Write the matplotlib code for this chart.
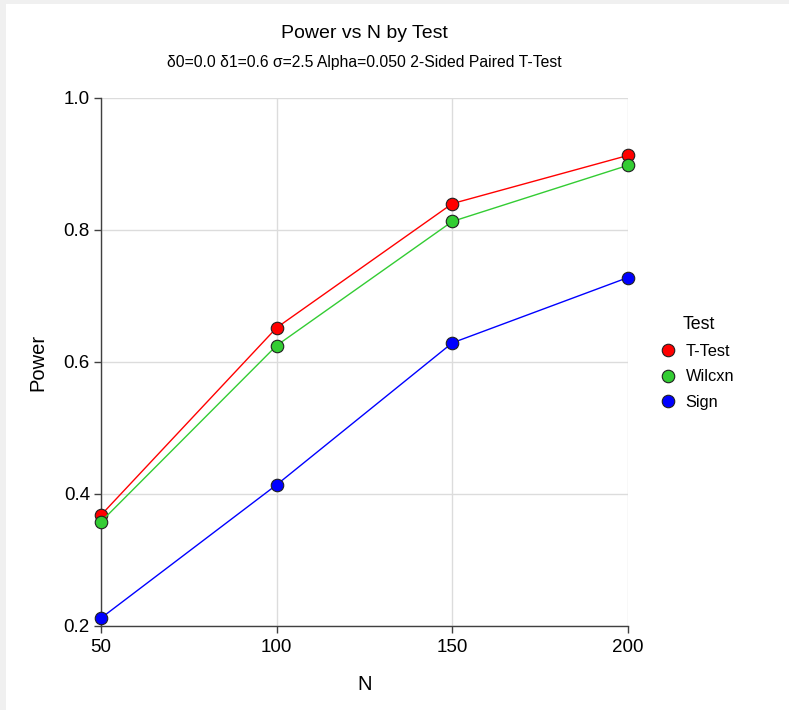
import matplotlib.pyplot as plt
from matplotlib.patches import Rectangle

plt.rcParams['font.family'] = ['Liberation Sans', 'DejaVu Sans']

# power values by sample size
n_values = [50, 100, 150, 200]
t_test = [0.368, 0.652, 0.840, 0.913]
wilcxn = [0.358, 0.625, 0.813, 0.898]
sign = [0.212, 0.414, 0.629, 0.728]

series = [("T-Test", t_test, "#ff0000"),
          ("Wilcxn", wilcxn, "#33cc33"),
          ("Sign", sign, "#0000ff")]

fig = plt.figure(figsize=(7.89, 7.10), dpi=100)
fig.patch.set_facecolor("#f0f0f0")
# white panel inside the grey frame
panel = Rectangle((6 / 789, 0), 1, 1 - 4 / 710, transform=fig.transFigure,
                  facecolor="white", edgecolor="none", zorder=-10)
fig.add_artist(panel)

ax = fig.add_axes([101 / 789, 1 - 626 / 710, 527 / 789, 528 / 710])
ax.set_zorder(1)
ax.set_facecolor("white")

for name, vals, col in series:
    ax.plot(n_values, vals, color=col, lw=1.0, marker="o", markersize=9,
            markerfacecolor=col, markeredgecolor="#202020",
            markeredgewidth=0.8, label=name, clip_on=False, zorder=3)

ax.set_xlim(50, 200)
ax.set_ylim(0.2, 1.0)
ax.set_xticks(n_values)
ax.set_yticks([0.2, 0.4, 0.6, 0.8, 1.0])
ax.set_yticklabels(["0.2", "0.4", "0.6", "0.8", "1.0"])
ax.grid(True, color="#dcdcdc", lw=1.0)
ax.set_axisbelow(True)

for s in ["top", "right"]:
    ax.spines[s].set_visible(False)
for s in ["left", "bottom"]:
    ax.spines[s].set_color("#404040")
    ax.spines[s].set_linewidth(1.0)
ax.tick_params(direction="out", length=5, width=1, color="#404040",
               labelsize=13.5, pad=3)
ax.tick_params(axis="x", pad=4)

ax.set_xlabel("N", fontsize=14.5, labelpad=14)
ax.set_ylabel("Power", fontsize=14.5, labelpad=12)

xc = (101 + 628) / 2 / 789
fig.text(xc, 1 - 33 / 710, "Power vs N by Test", ha="center", va="center",
         fontsize=14)
fig.text(xc, 1 - 63 / 710,
         "δ0=0.0 δ1=0.6 σ=2.5 Alpha=0.050 2-Sided Paired T-Test",
         ha="center", va="center", fontsize=11.3)

leg = ax.legend(title="Test", loc="center left",
                bbox_to_anchor=(648 / 789, 1 - 363 / 710),
                bbox_transform=fig.transFigure, frameon=False,
                fontsize=11.8, title_fontsize=12.8, handlelength=0.6,
                handletextpad=0.8, labelspacing=0.65)

plt.savefig("out.png", dpi=100, facecolor=fig.get_facecolor())
